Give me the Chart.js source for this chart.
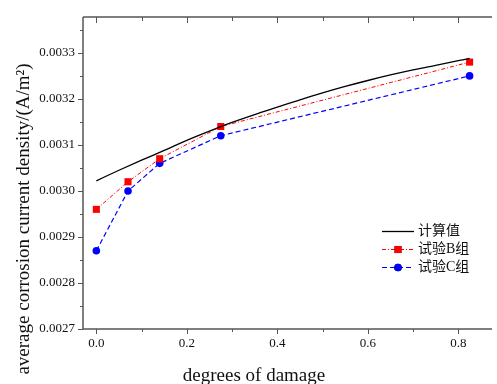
<!DOCTYPE html>
<html>
<head>
<meta charset="utf-8">
<script src="https://cdn.jsdelivr.net/npm/chart.js@4/dist/chart.umd.min.js"></script>
<style>
  html, body { margin: 0; padding: 0; background: #fff; overflow: hidden; }
  canvas { display: block; }
</style>
</head>
<body>
<canvas id="damageChart" width="497" height="384"></canvas>
<script>
// measured points (degree of damage -> current density)
const damage = [0, 0.07, 0.14, 0.275, 0.825];
const groupB = [0.00296, 0.00302, 0.00307, 0.00314, 0.00328];
const groupC = [0.00287, 0.00300, 0.00306, 0.00312, 0.00325];

// calculated curve
const calcX = [0, 0.05, 0.1, 0.15, 0.2, 0.25, 0.3, 0.35, 0.4, 0.45, 0.5, 0.55, 0.6, 0.65, 0.7, 0.75, 0.8, 0.825];
const calcY = [0.003022, 0.003045, 0.003067, 0.003088, 0.003110, 0.003130, 0.003149, 0.003166, 0.003182,
               0.003198, 0.003213, 0.003227, 0.003240, 0.003252, 0.003263, 0.003273, 0.003283, 0.003288];

const xTicks = [0, 0.2, 0.4, 0.6, 0.8];
const xMinor = [0.1, 0.3, 0.5, 0.7];
const yTicks = [0.0027, 0.0028, 0.0029, 0.0030, 0.0031, 0.0032, 0.0033];
const yMinor = [0.00275, 0.00285, 0.00295, 0.00305, 0.00315, 0.00325, 0.00335];

const labels = ['计算值', '试验B组', '试验C组'];
const xTitle = 'degrees of damage';
const yTitle = 'average corrosion current density/(A/m\u00B2)';

const serif = '"Liberation Serif", "Times New Roman", "Noto Sans CJK SC", serif';

const toPoints = (xs, ys) => xs.map((x, i) => ({ x: x, y: ys[i] }));

const datasets = [
    {
        label: labels[0],
        data: toPoints(calcX, calcY),
        borderColor: '#000',
        borderWidth: 1.3,
        pointRadius: 0,
        cubicInterpolationMode: 'monotone'
    },
    {
        label: labels[1],
        data: toPoints(damage, groupB),
        borderColor: '#ff0000',
        backgroundColor: '#ff0000',
        borderWidth: 1,
        borderDash: [4, 2, 1, 2],
        pointStyle: 'rect',
        pointRadius: 5,
        pointBorderWidth: 0
    },
    {
        label: labels[2],
        data: toPoints(damage, groupC),
        borderColor: '#0000ff',
        backgroundColor: '#0000ff',
        borderWidth: 1.2,
        borderDash: [5, 3],
        pointStyle: 'circle',
        pointRadius: 3.8,
        pointBorderWidth: 0
    }
];

// axes frame, tick marks, titles and legend
const framePlugin = {
    id: 'frame',
    afterDraw(chart) {
        const ctx = chart.ctx;
        const a = chart.chartArea;
        const xs = chart.scales.x;
        const ys = chart.scales.y;

        ctx.save();
        ctx.strokeStyle = '#555';
        ctx.lineWidth = 1.5;
        ctx.beginPath();
        ctx.moveTo(a.left, a.top);
        ctx.lineTo(a.left, a.bottom);
        ctx.lineTo(a.right, a.bottom);
        ctx.moveTo(a.left, a.top);
        ctx.lineTo(a.right, a.top);
        ctx.stroke();

        ctx.lineWidth = 1;
        ctx.beginPath();
        const xTick = (v, down, up) => {
            const px = Math.round(xs.getPixelForValue(v)) + 0.5;
            ctx.moveTo(px, a.bottom);
            ctx.lineTo(px, a.bottom + down);
            ctx.moveTo(px, a.top);
            ctx.lineTo(px, a.top + up);
        };
        xTicks.forEach(v => xTick(v, 5, 6));
        xMinor.forEach(v => xTick(v, 3, 4));
        const yTick = (v, len) => {
            const py = Math.round(ys.getPixelForValue(v)) + 0.5;
            ctx.moveTo(a.left, py);
            ctx.lineTo(a.left - len, py);
        };
        yTicks.forEach(v => yTick(v, 5));
        yMinor.forEach(v => yTick(v, 3));
        ctx.stroke();

        // axis titles
        ctx.fillStyle = '#111';
        ctx.font = '19px ' + serif;
        ctx.textAlign = 'center';
        ctx.textBaseline = 'alphabetic';
        ctx.fillText(xTitle, 254, 381);

        ctx.save();
        ctx.translate(29, 219);
        ctx.rotate(-Math.PI / 2);
        ctx.fillText(yTitle, 0, 0);
        ctx.restore();

        // legend
        ctx.font = '14px ' + serif;
        ctx.textAlign = 'left';
        ctx.textBaseline = 'middle';
        const rows = [231, 249, 267];
        chart.data.datasets.forEach((ds, i) => {
            const y = rows[i];
            ctx.save();
            ctx.strokeStyle = ds.borderColor;
            ctx.lineWidth = ds.borderWidth;
            ctx.setLineDash(ds.borderDash || []);
            ctx.beginPath();
            ctx.moveTo(382, y + 0.5);
            ctx.lineTo(414, y + 0.5);
            ctx.stroke();
            ctx.restore();
            if (ds.pointRadius) {
                Chart.helpers.drawPoint(ctx, {
                    pointStyle: ds.pointStyle,
                    radius: ds.pointRadius,
                    borderWidth: 0
                }, 398, y + 0.5);
                ctx.fillStyle = ds.backgroundColor;
                ctx.fill();
            }
            ctx.fillStyle = '#111';
            ctx.fillText(ds.label, 418, y);
        });
        ctx.restore();
    }
};

const el = document.getElementById('damageChart');
new Chart(el.getContext('2d'), {
    type: 'line',
    data: { datasets: datasets },
    options: {
        responsive: false,
        animation: false,
        layout: { padding: { top: 17, right: 0, left: 0, bottom: 0 } },
        plugins: { legend: { display: false }, tooltip: { enabled: false } },
        scales: {
            x: {
                type: 'linear',
                min: -0.0295,
                max: 0.8745,
                grid: { display: false, drawTicks: false },
                border: { display: false },
                afterFit: s => { s.height = 55; },
                afterBuildTicks: s => { s.ticks = xTicks.map(v => ({ value: v })); },
                ticks: {
                    autoSkip: false,
                    maxRotation: 0,
                    padding: 7,
                    color: '#111',
                    font: { family: serif, size: 13 },
                    callback: v => v.toFixed(1)
                }
            },
            y: {
                min: 0.0027,
                max: 0.003378,
                grid: { display: false, drawTicks: false },
                border: { display: false },
                afterFit: s => { s.width = 83; },
                afterBuildTicks: s => { s.ticks = yTicks.map(v => ({ value: v })); },
                ticks: {
                    autoSkip: false,
                    padding: 8,
                    color: '#111',
                    font: { family: serif, size: 13 },
                    callback: v => v.toFixed(4)
                }
            }
        }
    },
    plugins: [framePlugin]
});
</script>
</body>
</html>
